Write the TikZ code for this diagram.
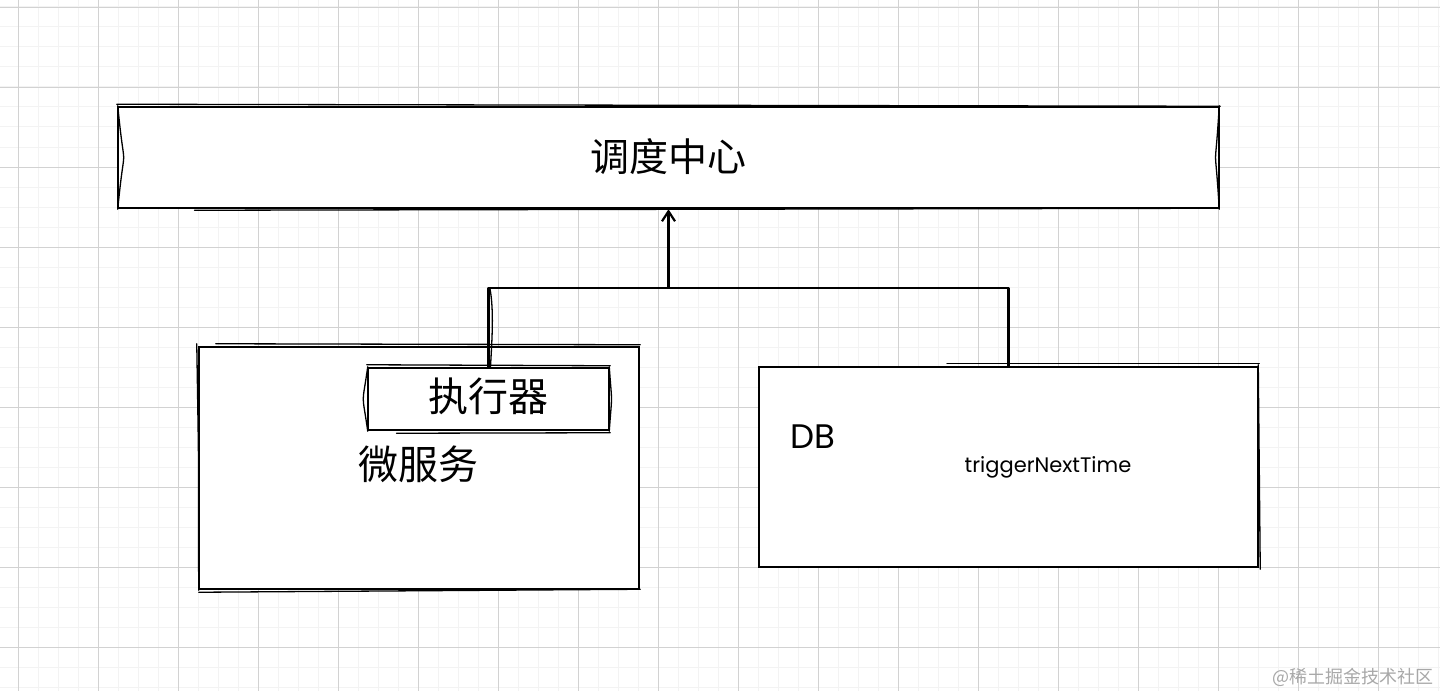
\documentclass[tikz,border=0pt]{standalone}
\usepackage{fontspec}
\newfontfamily\cjk{Noto Sans CJK SC}
\newfontfamily\hand{Poppins}
\usetikzlibrary{arrows.meta,calc}
\definecolor{gridminor}{HTML}{F3F3F3}
\definecolor{gridmajor}{HTML}{D2D2D2}
\definecolor{wm}{HTML}{A8A8A8}
\tikzset{
  box/.style={draw=black, fill=white, line width=2.5bp, inner sep=0pt, rectangle},
  rough/.style={draw=black, line width=1.3bp, line cap=round},
  conn/.style={draw=black, line width=2.6bp, line join=round},
  cjklabel/.style={font=\cjk\fontsize{40bp}{44bp}\selectfont, inner sep=0pt},
  handlabel/.style={font=\hand\fontsize{#1}{#1}\selectfont, inner sep=0pt},
}
\begin{document}
\begin{tikzpicture}[x=1bp,y=-1bp]
\useasboundingbox (0,0) rectangle (1440,691);
\fill[white] (0,0) rectangle (1440,691);
% grid
\foreach \x in {18,38,...,1438} \draw[gridminor, line width=1bp] (\x,0) -- (\x,691);
\foreach \y in {7,27,...,687} \draw[gridminor, line width=1bp] (0,\y) -- (1440,\y);
\foreach \x in {18,98,...,1438} \draw[gridmajor, line width=0.9bp] (\x,0) -- (\x,691);
\foreach \y in {7,87,...,687} \draw[gridmajor, line width=0.9bp] (0,\y) -- (1440,\y);

% top box
\node[box, minimum width=1101bp, minimum height=101bp] (top) at (668.5,157.5) {};
\node[cjklabel, font=\cjk\fontsize{39bp}{43bp}\selectfont] (toplabel) at (668,157) {调度中心};
\draw[rough] ([xshift=1]top.north west) .. controls ([xshift=9,yshift=-30]top.west) and ([xshift=9,yshift=30]top.west) .. ([xshift=1]top.south west);
\draw[rough] ([yshift=1.5]top.north west) -- ([yshift=-0.5]top.north east);
\draw[rough] ([xshift=78,yshift=-1]top.south west) -- ([xshift=-1,yshift=1]top.south east);
\draw[rough] ([xshift=-1]top.north east) .. controls ([xshift=-6,yshift=-30]top.east) and ([xshift=-6,yshift=30]top.east) .. ([xshift=-1]top.south east);

% micro service box
\node[box, minimum width=440bp, minimum height=242bp] (ms) at (419,468) {};
\node[cjklabel] (mslabel) at (418,464) {微服务};
\draw[rough] ([xshift=18,yshift=2]ms.north west) -- ([yshift=1]ms.north east);
\draw[rough] ([xshift=-1,yshift=2]ms.north west) .. controls ([xshift=2,yshift=-60]ms.west) and ([xshift=0,yshift=60]ms.west) .. ([xshift=1]ms.south west);
\draw[rough] ([xshift=1,yshift=-2]ms.south west) -- ([yshift=1]ms.south east);

% executor box
\node[box, minimum width=241bp, minimum height=62bp] (exec) at (488.5,399) {};
\node[cjklabel] (execlabel) at (488,396) {执行器};
\draw[rough] ([xshift=1]exec.north west) .. controls ([xshift=-5,yshift=-10]exec.west) and ([xshift=-5,yshift=10]exec.west) .. ([xshift=1]exec.south west);
\draw[rough] ([yshift=2]exec.north west) -- ([yshift=1]exec.north east);
\draw[rough] ([xshift=30,yshift=-2]exec.south west) -- ([yshift=-1.5]exec.south east);
\draw[rough] ([xshift=-1]exec.north east) .. controls ([xshift=2,yshift=-10]exec.east) and ([xshift=2,yshift=10]exec.east) .. ([xshift=-1]exec.south east);

% DB box
\node[box, minimum width=499bp, minimum height=200bp] (db) at (1008.5,467) {};
\node[handlabel=34bp, anchor=west] (dblabel) at (790,437) {DB};
\node[handlabel=21bp] (trig) at (1048,467) {triggerNextTime};
\draw[rough] ([xshift=190,yshift=2]db.north west) -- ([yshift=2]db.north east);
\draw[rough] ([xshift=-1,yshift=1]db.north east) -- ([xshift=1,yshift=-1]db.south east);

% connectors
\coordinate (j) at (668.5,288);
\draw[conn] (exec.north) |- (j) -| (db.north);
\draw[rough] ([xshift=2]exec.north) .. controls (492,340) and (494,310) .. (490,289);
\draw[conn, -{Straight Barb[length=10bp,width=13bp,line width=2.2bp]}] (j) -- (top.south);

% watermark
\node[font=\cjk\fontsize{18bp}{20bp}\selectfont, text=wm, anchor=east, inner sep=0pt] (wmk) at (1434,677) {@稀土掘金技术社区};
\end{tikzpicture}
\end{document}
